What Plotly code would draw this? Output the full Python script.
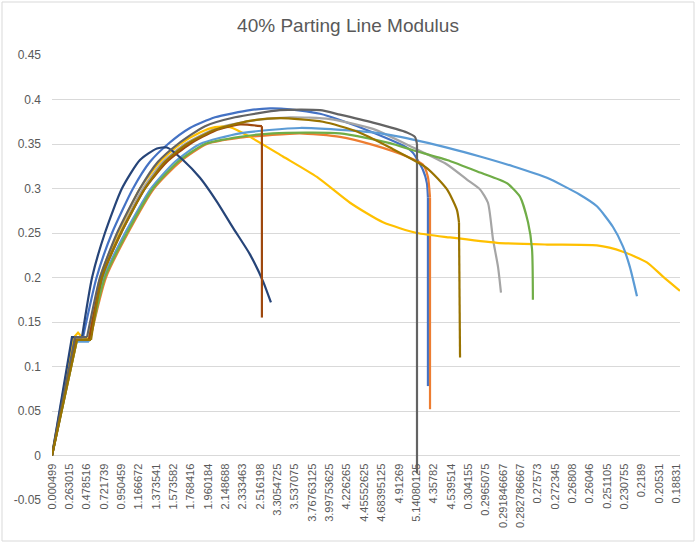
import plotly.graph_objects as go

# Category labels along the horizontal axis (one per labelled slot)
x_tick_labels = [
    "0.000499", "0.263015", "0.478516", "0.721739", "0.950459", "1.166672",
    "1.373541", "1.573582", "1.768416", "1.960184", "2.148688", "2.333463",
    "2.516198", "3.3054725", "3.537075", "3.76763125", "3.99753625", "4.226265",
    "4.45552625", "4.68395125", "4.91269", "5.14080125", "4.35782", "4.539514",
    "0.304155", "0.2965075", "0.291846667", "0.282786667", "0.27573", "0.272345",
    "0.26808", "0.26046", "0.251105", "0.230755", "0.2189", "0.20531", "0.18831",
]
y_tick_values = [-0.05, 0, 0.05, 0.1, 0.15, 0.2, 0.25, 0.3, 0.35, 0.4, 0.45]
y_tick_labels = ["-0.05", "0", "0.05", "0.1", "0.15", "0.2", "0.25", "0.3", "0.35", "0.4", "0.45"]

# Series: positions are in category-slot units, values are modulus readings
s1_x = [0, 1.21, 1.79, 2.57, 3.46, 4.67, 5.65, 6.69, 7.95, 9.4, 11.41, 12.56, 13.72, 15.45, 16.6, 18.5, 20.46, 20.81, 21.38, 21.61, 21.67, 21.67]
s1_y = [0, 0.133, 0.133, 0.2, 0.25, 0.3, 0.33, 0.35, 0.368, 0.38, 0.388, 0.39, 0.389, 0.384, 0.377, 0.363, 0.346, 0.34, 0.321, 0.306, 0.29, 0.078]

s2_x = [0, 1.44, 2.19, 3.11, 4.38, 5.88, 7.38, 8.93, 10.84, 12.56, 14.29, 16.6, 18.5, 20.46, 21.38, 21.67, 21.79, 21.79]
s2_y = [0, 0.13, 0.13, 0.2, 0.25, 0.3, 0.33, 0.35, 0.357, 0.36, 0.362, 0.358, 0.349, 0.336, 0.327, 0.313, 0.29, 0.052]

s3_x = [0, 1.38, 2.13, 2.8, 3.92, 5.24, 6.4, 7.67, 9.4, 11.41, 13.72, 16.02, 18.5, 20.81, 22.77, 23.92, 24.67, 25.13, 25.42, 25.71, 25.88]
s3_y = [0, 0.13, 0.13, 0.2, 0.25, 0.3, 0.33, 0.35, 0.367, 0.376, 0.38, 0.378, 0.367, 0.346, 0.327, 0.31, 0.299, 0.284, 0.243, 0.212, 0.183]

s4_x = [0, 1.27, 1.5, 1.73, 2.13, 2.77, 3.8, 5.07, 6.22, 7.38, 8.53, 9.4, 10.26, 11.41, 13.31, 15.27, 17.18, 19.08, 21.04, 22.94, 25.65, 28.53, 31.41, 32.91, 34.29, 35.22, 36.2]
s4_y = [0, 0.133, 0.138, 0.133, 0.131, 0.2, 0.25, 0.3, 0.33, 0.35, 0.363, 0.369, 0.369, 0.358, 0.336, 0.313, 0.284, 0.262, 0.25, 0.245, 0.239, 0.237, 0.236, 0.229, 0.217, 0.201, 0.185]

s5_x = [0, 1.38, 2.13, 2.99, 4.21, 5.71, 7.09, 8.53, 10.84, 14.29, 18.5, 20.81, 22.77, 24.67, 26.57, 28.53, 30.43, 31.41, 32.33, 32.91, 33.31, 33.72]
s5_y = [0, 0.128, 0.128, 0.2, 0.25, 0.3, 0.33, 0.35, 0.362, 0.368, 0.363, 0.355, 0.346, 0.336, 0.325, 0.312, 0.293, 0.28, 0.257, 0.235, 0.212, 0.179]

s6_x = [0, 1.44, 2.19, 3.05, 4.32, 5.82, 7.26, 8.82, 10.84, 12.74, 16.6, 19.48, 20.81, 22.77, 24.67, 26.22, 26.97, 27.44, 27.67, 27.72]
s6_y = [0, 0.13, 0.13, 0.2, 0.25, 0.3, 0.33, 0.35, 0.358, 0.362, 0.362, 0.351, 0.343, 0.332, 0.318, 0.306, 0.291, 0.262, 0.232, 0.175]

s7_x = [0, 1.15, 1.73, 2.31, 3.05, 4.03, 5.07, 6.05, 6.63, 7.55, 8.53, 9.51, 10.43, 11.41, 12.16, 12.62]
s7_y = [0, 0.133, 0.133, 0.2, 0.25, 0.3, 0.332, 0.345, 0.346, 0.332, 0.312, 0.285, 0.256, 0.226, 0.196, 0.172]

s8_x = [0, 1.38, 2.13, 2.88, 3.98, 5.36, 6.63, 7.95, 9.4, 10.84, 12.1, 12.1]
s8_y = [0, 0.13, 0.13, 0.2, 0.25, 0.3, 0.33, 0.35, 0.365, 0.372, 0.37, 0.155]

s9_x = [0, 1.33, 2.02, 2.77, 3.75, 5.07, 6.11, 7.26, 8.82, 10.55, 13.14, 15.45, 16.6, 18.5, 20.46, 20.92, 21.04, 21.04]
s9_y = [0, 0.133, 0.133, 0.2, 0.25, 0.3, 0.33, 0.35, 0.37, 0.38, 0.388, 0.388, 0.383, 0.374, 0.363, 0.358, 0.35, -0.02]

s10_x = [0, 1.44, 2.25, 2.88, 3.98, 5.36, 6.51, 7.78, 9.4, 11.41, 13.14, 15.62, 17.58, 19.48, 21.61, 22.77, 23.34, 23.46, 23.52]
s10_y = [0, 0.13, 0.13, 0.2, 0.25, 0.3, 0.33, 0.35, 0.366, 0.376, 0.379, 0.375, 0.364, 0.346, 0.323, 0.299, 0.276, 0.262, 0.11]

# (x, y, colour, points in the straight initial ramp/plateau, ends with a vertical break)
series = [
    (s1_x, s1_y, "#4472C4", 3, True),
    (s2_x, s2_y, "#ED7D31", 3, True),
    (s3_x, s3_y, "#A5A5A5", 3, False),
    (s4_x, s4_y, "#FFC000", 5, False),
    (s5_x, s5_y, "#5B9BD5", 3, False),
    (s6_x, s6_y, "#70AD47", 3, False),
    (s7_x, s7_y, "#264478", 3, False),
    (s8_x, s8_y, "#9E480E", 3, True),
    (s9_x, s9_y, "#636363", 3, True),
    (s10_x, s10_y, "#997300", 3, True),
]

fig = go.Figure()


def add_piece(xs, ys, color, shape):
    fig.add_trace(go.Scatter(
        x=xs, y=ys, mode="lines",
        line=dict(color=color, width=2.2, shape=shape,
                  **({"smoothing": 0.6} if shape == "spline" else {})),
        showlegend=False, hoverinfo="skip",
    ))


for xs, ys, color, n_ramp, has_break in series:
    end = len(xs) - 1 if has_break else len(xs)
    # straight ramp and plateau at the start
    add_piece(xs[:n_ramp], ys[:n_ramp], color, "linear")
    # smooth loading curve
    add_piece(xs[n_ramp - 1:end], ys[n_ramp - 1:end], color, "spline")
    # sudden failure drop
    if has_break:
        add_piece(xs[-2:], ys[-2:], color, "linear")

axis_font = dict(family="Liberation Sans, Arial, sans-serif", size=11, color="#595959")

fig.update_layout(
    width=696, height=543,
    margin=dict(l=52, r=16, t=55, b=43),
    paper_bgcolor="white", plot_bgcolor="white",
    title=dict(
        text="40% Parting Line Modulus",
        x=0.5, xref="container", xanchor="center",
        y=1 - 25 / 543, yanchor="middle",
        font=dict(family="Liberation Sans, Arial, sans-serif", size=19, color="#595959"),
    ),
    xaxis=dict(
        range=[0, 36.2],
        tickvals=list(range(len(x_tick_labels))),
        ticktext=x_tick_labels,
        tickangle=-90,
        anchor="free", position=0.1,
        showgrid=False, zeroline=False, showline=False,
        ticks="", ticklabelstandoff=5,
        tickfont=axis_font,
        automargin=False,
    ),
    yaxis=dict(
        range=[-0.05, 0.45],
        tickvals=y_tick_values,
        ticktext=y_tick_labels,
        showgrid=True, gridcolor="#D9D9D9", gridwidth=1,
        zeroline=False, showline=False,
        ticks="", ticklabelstandoff=10,
        tickfont=dict(family="Liberation Sans, Arial, sans-serif", size=12, color="#595959"),
        automargin=False,
    ),
    shapes=[dict(
        type="rect", xref="paper", yref="paper",
        x0=(2 - 52) / 628, x1=(694 - 52) / 628,
        y0=(500 - 541) / 445, y1=(500 - 2) / 445,
        line=dict(color="#D9D9D9", width=1), fillcolor="rgba(0,0,0,0)",
        layer="below",
    )],
)

fig.write_html("out.html")
